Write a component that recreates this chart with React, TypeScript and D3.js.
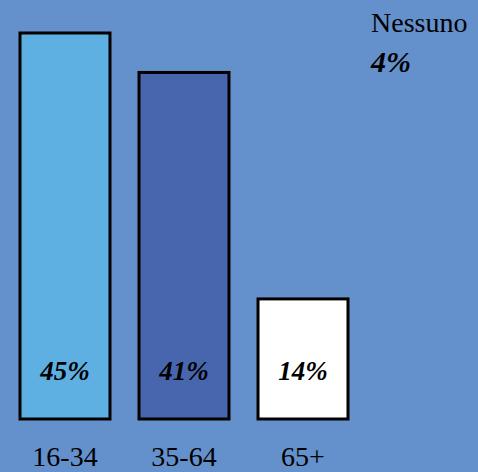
import React from "react";
import * as d3 from "d3";

const categories = ["16-34", "35-64", "65+"];
const values = [45, 40.4, 14];
const valueLabels = ["45%", "41%", "14%"];
const colors = ["#5EB0E3", "#4866AE", "#FFFFFF"];
const noneLabel = "Nessuno";
const noneValue = "4%";

const W = 478;
const H = 472;

export default function App() {
  const x = d3.scaleBand<string>().domain(categories).range([20, 348]).paddingInner(0.244).paddingOuter(0);
  const y = d3.scaleLinear().domain([0, 45]).range([419, 33]);
  const font = "'Liberation Serif', 'DejaVu Serif', serif";
  return (
    <svg width={W} height={H} style={{ position: "absolute", left: 0, top: 0, display: "block" }}>
      <rect x={0} y={0} width={W} height={H} fill="#6490CB" />
      {categories.map((c, i) => {
        const bx = x(c)!;
        const bw = x.bandwidth();
        const by = y(values[i]);
        const bh = y(0) - by;
        return (
          <g key={c}>
            <rect x={bx} y={by} width={bw} height={bh} fill={colors[i]} stroke="#000" strokeWidth={3} />
            <text x={bx + bw / 2} y={380} textAnchor="middle" fontFamily={font} fontSize={27} fontWeight="bold" fontStyle="italic" fill="#000">
              {valueLabels[i]}
            </text>
            <text x={bx + bw / 2} y={466} textAnchor="middle" fontFamily={font} fontSize={28} fill="#000">
              {c}
            </text>
          </g>
        );
      })}
      <text x={371} y={32} fontFamily={font} fontSize={28} fill="#000">{noneLabel}</text>
      <text x={371} y={72} fontFamily={font} fontSize={30} fontWeight="bold" fontStyle="italic" fill="#000">{noneValue}</text>
    </svg>
  );
}
